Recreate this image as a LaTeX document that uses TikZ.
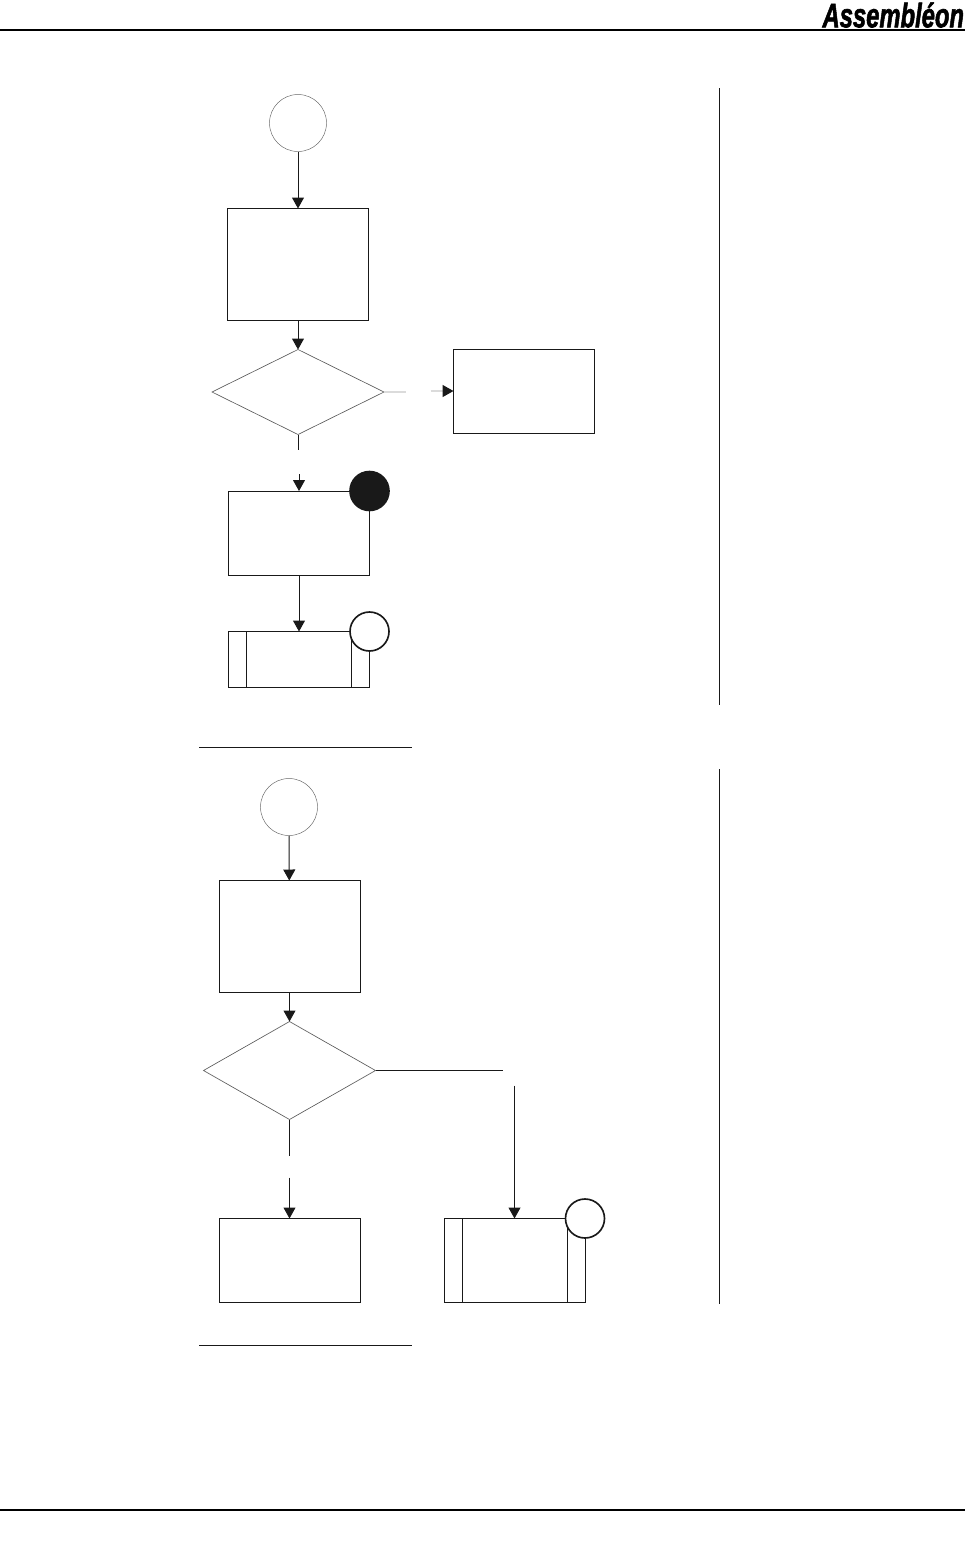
\documentclass[tikz,border=0pt]{standalone}
\usepackage{fontspec}
\setmainfont{Liberation Sans}
\newfontfamily\logofont[BoldItalicFeatures={FakeBold=2}]{Liberation Sans}
\usepackage{tikz}
\usetikzlibrary{
	shapes.geometric,
	arrows.meta,
	positioning,
	calc
}

\begin{document}
\begin{tikzpicture}[
    every node/.style={outer sep=0pt, inner sep=0pt},
    block/.style={rectangle, draw=black!90, line width=0.85pt, minimum width=4.23cm, minimum height=2.52cm},
    tallblock/.style={block, minimum height=3.36cm},
    subblock/.style={block, minimum height=1.68cm},
    decision/.style={diamond, draw=black!65, line width=0.55pt, minimum width=5.16cm},
    startcircle/.style={circle, draw=black!60, line width=0.4pt, minimum size=1.71cm},
    marker/.style={circle, draw=black!90, fill=white, line width=1.4pt, minimum size=1.17cm},
    blackmarker/.style={marker, fill=black!90},
    arrow/.style={line width=0.85pt, draw=black!90, -{Triangle[length=0.33cm,width=0.36cm]}},
    plainline/.style={line width=0.85pt, draw=black!90},
    fadedline/.style={line width=1.2pt, draw=black!14},
    rule/.style={line width=1.4pt, draw=black}
]
\useasboundingbox (0,0) rectangle (28.95,-46.98);

% Page header and footer
\draw[rule] (0,-0.9) -- (28.95,-0.9);
\draw[rule] (0,-45.3) -- (28.95,-45.3);
\node[anchor=east, font=\logofont\bfseries\itshape\fontsize{29}{29}\selectfont, xscale=0.7, transform shape] (logo) at (28.92,-0.45) {Assembléon};

% First flow
\node[startcircle] (start1) at (8.94,-3.69) {};
\node[tallblock, below=1.71cm of start1] (check1) {};
\node[decision, minimum height=2.55cm, below=0.87cm of check1] (choice1) {};
\node[block, right=2.085cm of choice1, yshift=0.03cm] (other1) {};
\node[block, below=1.695cm of choice1, xshift=0.03cm] (act1) {};
\node[subblock, below=1.695cm of act1] (sub1) {};
\node[blackmarker] (dot1) at (act1.north east) {};

\coordinate (gap1a) at ($(choice1.east)+(0.66,0)$);
\coordinate (gap1b) at ($(other1.west)+(-0.69,0)$);
\coordinate (gap2a) at ($(choice1.south)+(0,-0.45)$);
\coordinate (gap2b) at ($(act1.north)+(0,0.51)$);

% Arrows (first flow)
\draw[arrow] (start1) -- (check1);
\draw[arrow] (check1) -- (choice1);
\draw[fadedline] (choice1.east) -- (gap1a);
\draw[fadedline, -{Triangle[length=0.33cm,width=0.36cm,black!90]}] (gap1b) -- (other1.west);
\draw[plainline] (choice1.south) -- (gap2a);
\draw[arrow] (gap2b) -- (act1.north);
\draw[arrow] (act1) -- (sub1);

% Inner lines of the subprocess
\draw[plainline] ($(sub1.north west)+(0.54,0)$) -- ($(sub1.south west)+(0.54,0)$);
\draw[plainline] ($(sub1.north east)+(-0.54,0)$) -- ($(sub1.south east)+(-0.54,0)$);
\node[marker] (ring1) at (sub1.north east) {};

% Second flow
\node[startcircle] (start2) at (8.67,-24.21) {};
\node[tallblock, below=1.35cm of start2, xshift=0.015cm] (check2) {};
\node[decision, minimum height=2.94cm, below=0.87cm of check2] (choice2) {};
\node[block, below=2.97cm of choice2] (act2) {};
\node[block, right=2.52cm of act2] (sub2) {};

\coordinate (gap3a) at ($(choice2.east)+(3.81,0)$);
\coordinate (gap3b) at ($(sub2.north)+(0,3.99)$);
\coordinate (gap4a) at ($(choice2.south)+(0,-1.08)$);
\coordinate (gap4b) at ($(act2.north)+(0,1.23)$);

% Arrows (second flow)
\draw[arrow] (start2) -- (check2);
\draw[arrow] (check2) -- (choice2);
\draw[plainline] (choice2.east) -- (gap3a);
\draw[arrow] (gap3b) -- (sub2.north);
\draw[plainline] (choice2.south) -- (gap4a);
\draw[arrow] (gap4b) -- (act2.north);

\draw[plainline] ($(sub2.north west)+(0.54,0)$) -- ($(sub2.south west)+(0.54,0)$);
\draw[plainline] ($(sub2.north east)+(-0.54,0)$) -- ($(sub2.south east)+(-0.54,0)$);
\node[marker] (ring2) at (sub2.north east) {};

% Margin rules
\draw[plainline] (21.57,-2.64) -- (21.57,-21.15);
\draw[plainline] (21.57,-23.07) -- (21.57,-39.12);
\draw[plainline] (5.97,-22.41) -- (12.36,-22.41);
\draw[plainline] (5.97,-40.35) -- (12.36,-40.35);

\end{tikzpicture}
\end{document}
